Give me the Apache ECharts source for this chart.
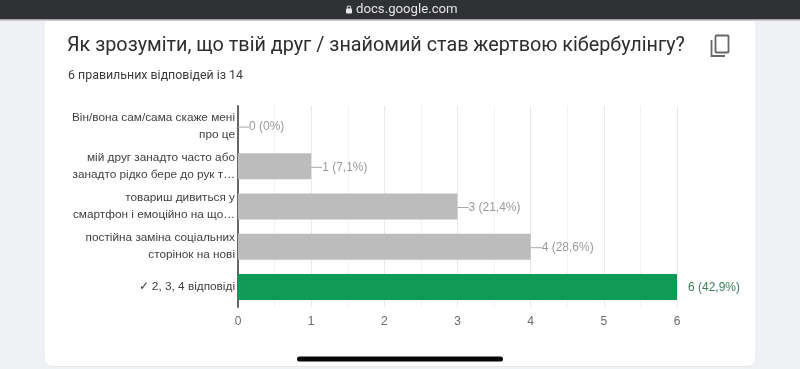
<!DOCTYPE html>
<html>
<head>
<meta charset="utf-8">
<style>
  html, body { margin: 0; padding: 0; background: #f0f1f4; }
  #chart { width: 800px; height: 369px; }
</style>
<script src="https://cdn.jsdelivr.net/npm/echarts@6/dist/echarts.min.js"></script>
</head>
<body>
<div id="chart"></div>
<script>
const categories = [
  'Він/вона сам/сама скаже мені\nпро це',
  'мій друг занадто часто або\nзанадто рідко бере до рук т…',
  'товариш дивиться у\nсмартфон і емоційно на що…',
  'постійна заміна соціальних\nсторінок на нові',
  '✓ 2, 3, 4 відповіді'
];
const counts = [0, 1, 3, 4, 6];
const percents = ['0%', '7,1%', '21,4%', '28,6%', '42,9%'];
const correct = [false, false, false, false, true];
const axisTicks = [0, 1, 2, 3, 4, 5, 6];

const sans = '"Liberation Sans", Arial, sans-serif';

const chart = echarts.init(document.getElementById('chart'));
chart.setOption({
  animation: false,
  backgroundColor: '#f0f1f4',
  grid: { left: 238, right: 123, top: 106, bottom: 62 },
  xAxis: {
    type: 'value',
    min: axisTicks[0],
    max: axisTicks[axisTicks.length - 1],
    interval: 1,
    axisLine: { show: false },
    axisTick: { show: false },
    axisLabel: { color: '#6b6b6b', fontFamily: sans, fontSize: 12, margin: 9 },
    splitLine: { lineStyle: { color: '#e9e9e9', width: 1 } },
    minorTick: { show: false, splitNumber: 2 },
    minorSplitLine: { show: true, lineStyle: { color: '#f3f3f3', width: 1 } }
  },
  yAxis: {
    type: 'category',
    inverse: true,
    data: categories,
    axisLine: { lineStyle: { color: '#666666', width: 2 } },
    axisTick: { show: false },
    axisLabel: {
      color: '#3f3f3f',
      fontFamily: sans,
      fontSize: 11.8,
      lineHeight: 17,
      align: 'right',
      margin: 3,
      padding: [5, 0, 0, 0]
    }
  },
  series: [{
    type: 'bar',
    barWidth: 26,
    z: 3,
    data: counts.map((v, i) => ({
      value: v,
      itemStyle: { color: correct[i] ? '#0f9a55' : '#bcbcbc' },
      label: {
        color: correct[i] ? '#3f7d5f' : '#9a9a9a',
        formatter: v + ' (' + percents[i] + ')'
      },
      labelLine: { show: !correct[i] }
    })),
    label: {
      show: true,
      position: 'right',
      distance: 0,
      fontFamily: sans,
      fontSize: 12
    },
    labelLayout: { dx: 11, dy: 1 },
    labelLine: { show: true, lineStyle: { color: '#a8a8a8', width: 1 } }
  }],
  graphic: [
    // page card, behind the plot
    { type: 'rect', z: -10, silent: true, shape: { x: 44, y: 20, width: 712, height: 346.5, r: [0, 0, 8, 8] },
      style: { fill: '#ffffff', stroke: '#e6e7ea', lineWidth: 1 } },
    // browser bar
    { type: 'rect', z: 10, shape: { x: 0, y: 0, width: 800, height: 19 }, style: { fill: '#303134' } },
    { type: 'rect', z: 10, shape: { x: 0, y: 19, width: 800, height: 1.5 }, style: { fill: '#a5a5a7' } },
    { type: 'rect', z: 11, shape: { x: 346, y: 8.5, width: 6, height: 5, r: 1 }, style: { fill: '#e8e8e8' } },
    { type: 'ring', z: 11, shape: { cx: 349, cy: 7.8, r: 2.3, r0: 1.4 }, style: { fill: '#e8e8e8' } },
    { type: 'text', z: 11, x: 356, y: 10,
      style: { text: 'docs.google.com', fill: '#e4e4e4', font: '13.2px Roboto, sans-serif', textVerticalAlign: 'middle' } },
    // heading
    { type: 'text', z: 11, x: 67, y: 46,
      style: { text: 'Як зрозуміти, що твій друг / знайомий став жертвою кібербулінгу?', fill: '#2e2e30',
        font: '19.8px Roboto, sans-serif', textVerticalAlign: 'middle' } },
    { type: 'text', z: 11, x: 68, y: 76,
      style: { text: '6 правильних відповідей із 14', fill: '#3c3c3e',
        font: '12.4px Roboto, sans-serif', textVerticalAlign: 'middle' } },
    // copy icon
    { type: 'rect', z: 11, shape: { x: 715.5, y: 35.5, width: 13, height: 17, r: 1 },
      style: { fill: 'none', stroke: '#66676a', lineWidth: 1.8 } },
    { type: 'polyline', z: 11, shape: { points: [[711.5, 40], [711.5, 56], [725, 56]] },
      style: { fill: 'none', stroke: '#66676a', lineWidth: 1.8 } },
    // home indicator
    { type: 'rect', z: 11, shape: { x: 297, y: 356.5, width: 206, height: 5, r: 2.5 }, style: { fill: '#050505' } }
  ]
});
</script>
</body>
</html>
